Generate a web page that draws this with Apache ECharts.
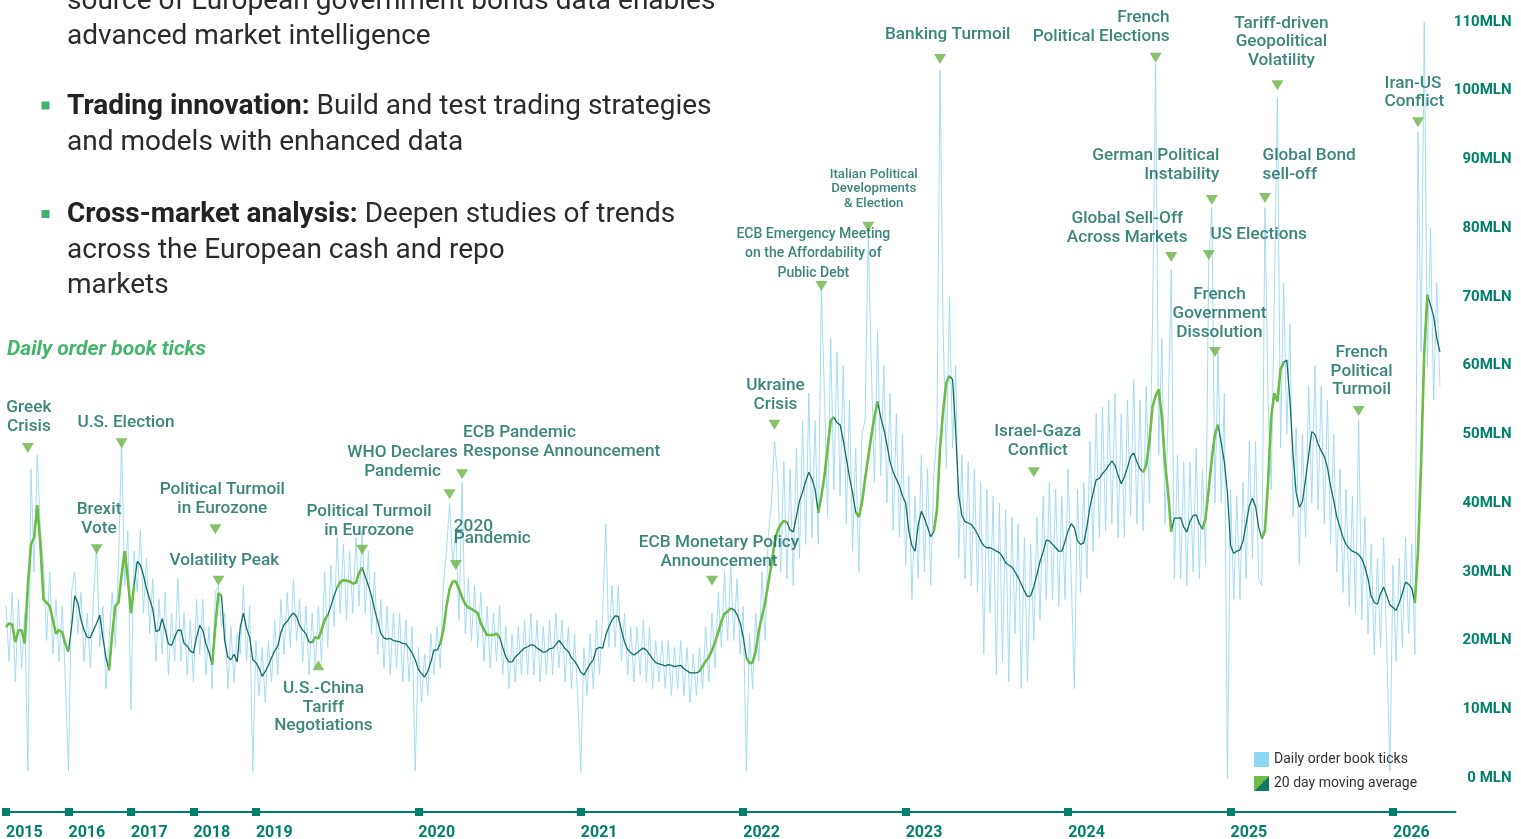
<!DOCTYPE html>
<html><head><meta charset="utf-8">
<script src="https://cdn.jsdelivr.net/npm/echarts@6/dist/echarts.min.js"></script>
<style>html,body{margin:0;padding:0;background:#fff;overflow:hidden}#c{width:1521px;height:839px}</style>
</head><body><div id="c"></div>
<script>
// ---- categories: [year, points in that year, days between points]
const yearSpec = [[2015,20,18.25],[2016,20,18.25],[2017,20,18.25],[2018,20,18.25],[2019,52,7],[2020,52,7],[2021,52,7],[2022,52,7],[2023,52,7],[2024,52,7],[2025,52,7],[2026,21,7]];

// ---- 20 day moving average (MLN)
const movingAvg = [
22,22.5,22.3,19.8,21.5,21.5,19.6,28,34,35,
39.7,34,26,25.5,25,23,21,21.5,21.2,19.5,
18.4,22,26.5,25.5,23,21.5,20.5,20.4,21.5,22.5,
23.7,20.5,17.5,15.7,21,25,25.5,29.5,33,29,
24,28,31.5,31,29.5,27.5,26,24.5,21.3,21.5,
23.2,21.5,19.5,19.3,20.5,21.5,21.5,19.6,19.2,18.5,
18.2,20.5,22.2,21.5,19.5,18.3,16.5,22,26.9,26.5,
20,17.6,17.2,18,16.9,22,24,21.8,20.5,17.2,
16.8,16,14.8,15.5,16.4,17.5,18.5,19.2,21.2,22.3,
22.8,23.5,24,23.5,22.2,21.5,21,19.8,19.7,20.5,
20.3,21.5,23,23.7,25,26.5,27.7,28.5,28.8,28.7,
28.6,28.3,28.4,29.8,30.6,29.3,28,26.5,24.5,22.8,
21,20.4,20.2,20.3,20,19.9,19.8,19.6,19.5,18.9,
18.2,17.2,15.8,15.2,14.7,15.5,16.9,18.6,18.6,19.5,
21.5,25,27.5,28.6,28.6,27.5,26.3,25.3,24.8,24.6,
24.3,24,22.5,21.6,20.8,20.8,20.8,21,20.5,19,
17.6,16.9,16.9,17.6,18,18.5,18.9,19.1,19.4,19.3,
18.9,18.6,18.3,18.4,18.8,18.9,19.4,20,19.5,18.8,
18.4,17.5,17,16.3,15.4,15,15.8,16.6,17.2,18.8,
19,18.9,20.8,22,23,23.6,23.5,21.5,19.8,18.7,
18.2,17.9,18.2,18.6,18.9,18.6,18,17.3,16.8,16.6,
16.5,16.3,16.5,16.4,16.2,16.3,16.4,15.9,15.6,15.3,
15.3,15.3,15.5,16.3,17,17.6,18.6,19.8,21.2,22.8,
23.9,24.2,24.7,24.5,23.8,22.6,20.5,17.5,16.7,16.8,
18.5,21.5,23.5,25.5,28.3,31,34.2,36,36.9,37.4,
37.2,36.1,35.8,38,40.3,41.6,43.2,44.5,43.5,42,
38.6,41,44,48,52,52.5,51.7,51.4,49.2,46.5,
43.8,41.5,38.7,38,40,43.5,46.7,49.8,52.5,54.8,
52.5,50.8,48.5,46,44.5,43.5,42.5,41,40,36,
33.8,33,36.8,38.8,37.8,36.5,35.1,35.8,39,48,
53.5,57.5,58.5,58,50.5,41,38.2,37.3,37.1,36.9,
36.3,35.5,34.5,33.8,33.5,33.5,33.3,33,32.8,32.2,
31.3,31,30.7,30,29.2,28.2,27.2,26.4,26.5,27.8,
29.6,31.5,32.9,34.6,34.5,34,33.5,33,33,34.4,
36,37,36.4,34.5,34,34.2,36.5,39.5,41.5,43.4,
43.6,44.3,44.8,45.5,46.1,45.5,44,42.8,43.8,45.2,
46.8,47.3,46,45,44.5,45.5,49,54,55.6,56.5,
52.5,46,41.5,35.8,37.8,37.8,37.9,36.5,35.8,37.3,
38.2,38.3,37,36.2,37.8,42,46.5,50,51.4,48.8,
46,41.5,33.8,32.7,33,33.2,34.5,37,39.6,40.7,
39.5,36.5,34.8,36,43,52.5,56,54.8,59.5,60.5,
60.8,55,47,41.5,39.4,40.2,43.5,47,50.4,50,
48.6,47.6,46.8,45.2,42.5,40.4,38,36.5,35,34,
33.4,33,32.8,32.5,31.9,30.7,29,26.5,25.5,25.3,
26.8,27.8,26.5,25.2,24.8,24.4,25.5,26.9,28.5,28.2,
27.6,25.5,33,46,62,70.3,68.8,67.2,64,62
];

// ---- daily order book ticks (MLN)
const dailyTicks = [
25,17,27,14,26,16,24,1,45,30,
47,36,31,20,30,18,26,17,25,14,
1,27,30,21,27,17,24,16,26,34,
19,25,13,20,27,19,31,49,28,36,
10,33,27,36,24,32,21,29,17,26,
18,27,15,24,17,29,17,24,15,23,
14,26,18,26,15,22,13,27,28,22,
24,13,22,14,21,18,28,17,25,1,
20,12,19,11,20,14,23,15,26,18,
27,19,29,20,26,17,25,15,24,16,
25,17,30,19,31,22,35,24,34,23,
33,24,35,25,36,24,33,21,30,18,
26,16,25,15,24,16,24,14,23,14,
22,1,19,11,18,12,21,15,22,16,
28,33,40,31,36,23,43,21,29,20,
28,19,27,17,25,16,24,17,25,15,
22,13,21,14,22,15,23,15,24,15,
23,14,22,15,23,15,24,16,23,14,
22,13,21,12,1,19,12,21,13,23,
15,24,37,19,28,19,28,17,24,15,
22,14,22,15,23,14,22,13,20,14,
20,13,20,12,19,13,20,12,19,11,
18,12,19,13,22,14,24,16,27,19,
30,20,31,20,29,18,25,1,21,13,
24,17,30,20,35,40,49,44,30,46,
29,45,28,48,32,52,34,56,35,52,
34,71,56,38,64,42,62,41,60,37,
55,33,48,30,50,52,79,60,43,65,
44,60,40,56,36,53,35,50,31,44,
26,41,29,47,30,45,28,44,50,103,
65,45,70,48,60,32,47,29,46,28,
45,27,43,18,42,24,41,15,40,17,
39,14,38,21,37,13,35,14,34,20,
38,23,41,26,43,26,42,25,41,26,
45,29,13,42,27,43,29,49,33,53,
35,54,36,55,37,56,35,53,35,55,
38,58,37,55,36,57,40,66,104,47,
64,37,52,74,29,47,29,46,28,46,
30,48,29,45,31,75,83,40,62,40,
56,0,42,26,41,26,43,29,49,32,
49,29,28,83,55,42,70,99,48,72,
50,66,38,51,31,50,35,57,40,60,
39,57,37,55,34,50,30,45,27,42,
25,41,24,52,23,38,21,34,18,32,
19,35,19,1,31,17,32,19,35,21,
34,18,94,62,110,60,80,55,72,57
];

// ---- highlighted (green) stretches of the moving average, as category index ranges
const highlightRanges = [[0,20],[33,41],[66,69],[98,103],[106,114],[139,158],[222,232],[237,250],[260,265],[272,279],[297,302],[364,373],[383,388],[402,409],[451,455]];

// ---- event annotations
const eventLabels = ['Greek\nCrisis','U.S. Election','Brexit\nVote','Political Turmoil\nin Eurozone','Volatility Peak','U.S.-China\nTariff\nNegotiations','Political Turmoil\nin Eurozone','WHO Declares\nPandemic','ECB Pandemic\nResponse Announcement','2020\nPandemic','ECB Monetary Policy\nAnnouncement','Ukraine\nCrisis','ECB Emergency Meeting\non the Affordability of\nPublic Debt','Italian Political\nDevelopments\n& Election','Banking Turmoil','French\nPolitical Elections','German Political\nInstability','Global Sell-Off\nAcross Markets','US Elections','Global Bond\nsell-off','Tariff-driven\nGeopolitical\nVolatility','French\nGovernment\nDissolution','Israel-Gaza\nConflict','French\nPolitical\nTurmoil','Iran-US\nConflict'];
const eventIndex = [7,37,29,67,68,100,114,142,146,144,226,246,261,276,299,368,386,373,385,403,407,387,329,433,452];
const eventLevel = [48.0,48.7,33.3,36.2,28.7,16.4,33.2,41.3,44.2,31.0,28.7,51.4,71.6,80.2,104.6,104.8,84.1,75.8,76.1,84.4,100.8,62.0,44.5,53.4,95.4];

// ---- y-axis tick labels
const yTickLabels = ['0 MLN','10MLN','20MLN','30MLN','40MLN','50MLN','60MLN','70MLN','80MLN','90MLN','100MLN','110MLN'];

// ================= layout / styling =================
const FONT = 'Roboto, "Noto Sans", sans-serif';
const AX = '#00806b', TEXT = '#0a685a', MA_C = '#0f6e5e', GREEN = '#6cbd45', TRI = '#6ab446', BLUE = '#9ad8f3';

const cats = [];
yearSpec.forEach(([y, n, step]) => {
  for (let k = 0; k < n; k++) {
    const d = new Date(Date.UTC(y, 0, 1 + Math.round(k * step)));
    cats.push(d.toISOString().slice(0, 10));
  }
});
const isYearStart = (i) => i === 0 || cats[i].slice(0, 4) !== cats[i - 1].slice(0, 4);

const highlight = movingAvg.map((v, i) => highlightRanges.some(([a, b]) => i >= a && i <= b) ? v : null);

// label layout per event: [align, dx, dy, fontSize, lineHeight, pointsUp]
const eventLayout = [
 ['center',1,-12],['center',4.4,-11],['center',2.4,-11],['center',7,-11],['center',6,-11],
 ['center',5,14,17.2,18.7,true],['center',7,-10],['center',-47,-13],['left',1,-13],['left',-2,-20,17.2,12],
 ['center',7,-10],['center',1,-11],['center',-8,-3,14,19.5],['center',5.5,-16,13.3,14.5],['center',7.7,-15],
 ['right',14,-12],['right',7.6,-16],['center',-44,-10],['left',1.7,-11],['left',-2.5,-14],
 ['center',4,-15],['center',4.5,-10],['center',4,-12],['center',3,-11.5],['left',-33.5,-11]
];

const events = eventLabels.map((t, i) => {
  const [align, dx, dy, fs, lh, up] = eventLayout[i];
  return {
    value: [eventIndex[i], eventLevel[i]],
    symbolRotate: up ? 0 : 180,
    label: {
      show: true, formatter: t, position: 'inside', align: align,
      verticalAlign: up ? 'top' : 'bottom', offset: [dx, dy],
      fontSize: fs || 17.2, lineHeight: lh || 18.7, color: TEXT, fontFamily: FONT, fontWeight: 500
    }
  };
});

const txt = (x, y, text) => ({type: 'text', x: x, y: y, style: {text: text, fill: '#2b2b2b', fontSize: 28, fontFamily: FONT, verticalAlign: 'middle',
  rich: {b: {fontWeight: 'bold', fontSize: 28, fontFamily: FONT, fill: '#222'}}}});

const chart = echarts.init(document.getElementById('c'), null, {renderer: 'canvas'});
chart.setOption({
  animation: false,
  backgroundColor: '#fff',
  textStyle: {fontFamily: FONT},
  grid: {left: 6, right: 65.5, top: 22, bottom: 61, containLabel: false, outerBoundsMode: 'none'},
  title: {
    text: 'Daily order book ticks', left: 7, top: 339, padding: 0,
    textStyle: {fontStyle: 'italic', fontWeight: 'bold', fontSize: 21, color: '#45b56c', fontFamily: FONT}
  },
  legend: {
    orient: 'vertical', left: 1254, top: 752, padding: 0, itemWidth: 15, itemHeight: 15, itemGap: 9,
    selectedMode: false,
    textStyle: {fontSize: 14, color: '#333', fontFamily: FONT},
    data: [
      {name: 'Daily order book ticks', icon: 'rect', itemStyle: {color: '#8fd6f5', borderWidth: 0}},
      {name: '20 day moving average', icon: 'rect', itemStyle: {borderWidth: 0, color: new echarts.graphic.LinearGradient(0, 0, 1, 1, [
        {offset: 0, color: GREEN}, {offset: 0.5, color: GREEN}, {offset: 0.5, color: '#0f7a66'}, {offset: 1, color: '#0f7a66'}])}}
    ]
  },
  graphic: [
    txt(67, 2, 'source of European government bonds data enables'),
    txt(67, 37, 'advanced market intelligence'),
    {type: 'rect', shape: {x: 41.5, y: 101.5, width: 8, height: 8}, style: {fill: '#3db36b'}},
    txt(67, 107, '{b|Trading innovation:} Build and test trading strategies'),
    txt(67, 143, 'and models with enhanced data'),
    {type: 'rect', shape: {x: 41.5, y: 210, width: 8, height: 8}, style: {fill: '#3db36b'}},
    txt(67, 215, '{b|Cross-market analysis:} Deepen studies of trends'),
    txt(67, 251, 'across the European cash and repo'),
    txt(67, 286, 'markets')
  ],
  xAxis: [
    {
      type: 'category', data: cats, boundaryGap: false, offset: 34,
      axisLine: {onZero: false, lineStyle: {color: AX, width: 2}},
      axisTick: {show: true, interval: (i) => isYearStart(i), length: 4, lineStyle: {color: AX, width: 8}},
      axisLabel: {interval: (i) => isYearStart(i), formatter: (v) => v.slice(0, 4), align: 'left', margin: 13,
        color: AX, fontWeight: 'bold', fontSize: 16, fontFamily: FONT, hideOverlap: false},
      splitLine: {show: false}
    },
    {
      type: 'category', data: cats, boundaryGap: false, offset: 34, position: 'bottom',
      axisLine: {show: false, onZero: false},
      axisTick: {show: true, inside: true, interval: (i) => isYearStart(i), length: 4, lineStyle: {color: AX, width: 8}},
      axisLabel: {show: false}, splitLine: {show: false}
    }
  ],
  yAxis: {
    type: 'value', position: 'right', min: 0, max: 110, interval: 10,
    splitLine: {show: false}, axisLine: {show: false}, axisTick: {show: false},
    axisLabel: {formatter: (v) => yTickLabels[Math.round(v / 10)], align: 'right', margin: 56,
      color: AX, fontWeight: 'bold', fontSize: 15, fontFamily: FONT}
  },
  series: [
    {name: 'Daily order book ticks', type: 'line', data: dailyTicks, symbol: 'none', silent: true,
      lineStyle: {color: BLUE, width: 1, opacity: 0.9}, itemStyle: {color: '#8fd6f5'}, z: 1},
    {name: '20 day moving average', type: 'line', data: movingAvg, symbol: 'none', silent: true,
      lineStyle: {color: MA_C, width: 1.3}, itemStyle: {color: MA_C}, z: 3},
    {name: 'highlight', type: 'line', data: highlight, symbol: 'none', silent: true, connectNulls: false,
      lineStyle: {color: GREEN, width: 2.6}, itemStyle: {color: GREEN}, z: 4},
    {name: 'events', type: 'scatter', data: events, symbol: 'triangle', symbolSize: [12, 10], silent: true,
      itemStyle: {color: TRI}, z: 5}
  ]
});
</script></body></html>
